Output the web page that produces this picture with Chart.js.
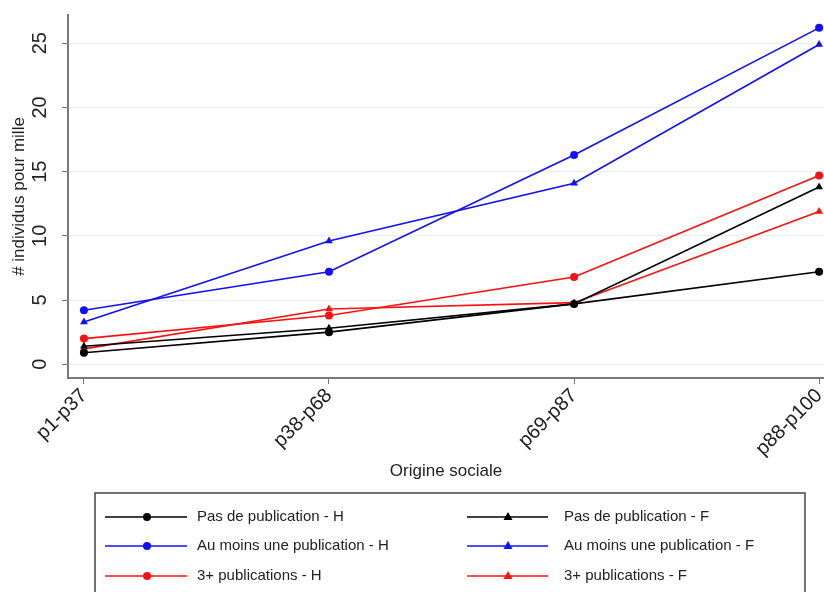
<!DOCTYPE html>
<html>
<head>
<meta charset="utf-8">
<script src="https://cdn.jsdelivr.net/npm/chart.js@4.4.1/dist/chart.umd.min.js"></script>
<style>
  html, body { margin: 0; padding: 0; background: #fff; }
</style>
</head>
<body>
<canvas id="graphique" width="824" height="592"></canvas>
<script>
const categories = ['p1-p37', 'p38-p68', 'p69-p87', 'p88-p100'];
const yTicks = [0, 5, 10, 15, 20, 25];

const pasPubH = [0.9, 2.5, 4.7, 7.2];
const pasPubF = [1.4, 2.8, 4.7, 13.8];
const auMoinsH = [4.2, 7.2, 16.3, 26.2];
const auMoinsF = [3.3, 9.6, 14.1, 24.9];
const troisPlusH = [2.0, 3.8, 6.8, 14.7];
const troisPlusF = [1.2, 4.3, 4.8, 11.9];

const police = "'Liberation Sans', Arial, sans-serif";

const points = arr => arr.map((v, i) => ({ x: i, y: v }));

const serie = (label, valeurs, couleur, forme) => ({
  label,
  data: points(valeurs),
  borderColor: couleur,
  backgroundColor: couleur,
  borderWidth: 1.6,
  pointStyle: forme,
  pointRadius: forme === 'triangle' ? 4.5 : 4,
  pointBorderWidth: 0,
  tension: 0,
  clip: false,
});

const data = {
  datasets: [
    serie('Pas de publication - H', pasPubH, '#000000', 'circle'),
    serie('Pas de publication - F', pasPubF, '#000000', 'triangle'),
    serie('Au moins une publication - H', auMoinsH, '#1010ff', 'circle'),
    serie('Au moins une publication - F', auMoinsF, '#1010ff', 'triangle'),
    serie('3+ publications - H', troisPlusH, '#ff1010', 'circle'),
    serie('3+ publications - F', troisPlusF, '#ff1010', 'triangle'),
  ],
};

// legende facon Stata, en 2 colonnes dans un cadre
const legendeStata = {
  id: 'legendeStata',
  afterDraw(chart) {
    const ctx = chart.ctx;
    ctx.save();
    ctx.strokeStyle = '#444';
    ctx.lineWidth = 1.5;
    ctx.strokeRect(95, 493, 710, 120);
    const cols = [
      { x0: 105, x1: 187, xm: 147, xt: 197 },
      { x0: 467, x1: 548, xm: 508, xt: 564 },
    ];
    const rows = [517, 546, 576];
    ctx.font = '15px ' + police;
    ctx.textBaseline = 'middle';
    ctx.textAlign = 'left';
    chart.data.datasets.forEach((ds, i) => {
      const c = cols[i % 2];
      const y = rows[Math.floor(i / 2)];
      ctx.strokeStyle = ds.borderColor;
      ctx.fillStyle = ds.borderColor;
      ctx.lineWidth = 1.6;
      ctx.beginPath();
      ctx.moveTo(c.x0, y);
      ctx.lineTo(c.x1, y);
      ctx.stroke();
      ctx.beginPath();
      if (ds.pointStyle === 'triangle') {
        ctx.moveTo(c.xm, y - 5);
        ctx.lineTo(c.xm + 4.5, y + 3);
        ctx.lineTo(c.xm - 4.5, y + 3);
        ctx.closePath();
      } else {
        ctx.arc(c.xm, y, 4, 0, Math.PI * 2);
      }
      ctx.fill();
      ctx.fillStyle = '#222';
      ctx.fillText(ds.label, c.xt, y);
    });
    ctx.restore();
  },
};

const options = {
  responsive: false,
  animation: false,
  layout: { autoPadding: false, padding: { top: 15, right: 0, bottom: 107, left: 0 } },
  plugins: {
    legend: { display: false },
    tooltip: { enabled: false },
  },
  scales: {
    x: {
      type: 'linear',
      min: -0.065,
      max: 3.02,
      afterBuildTicks: s => { s.ticks = categories.map((c, i) => ({ value: i })); },
      afterFit: s => { s.height = 107; s.paddingLeft = 0; s.paddingRight = 0; },
      ticks: {
        callback: v => categories[v],
        minRotation: 45,
        maxRotation: 45,
        autoSkip: false,
        color: '#222',
        padding: 0,
        font: { family: police, size: 20 },
      },
      grid: { drawOnChartArea: false, tickLength: 6, tickColor: '#777', tickWidth: 1 },
      border: { color: '#7a7a7a', width: 2 },
      title: {
        display: true,
        text: 'Origine sociale',
        color: '#222',
        font: { family: police, size: 17 },
        padding: { top: 0, bottom: 3 },
      },
    },
    y: {
      min: -1.07,
      max: 27.2,
      afterBuildTicks: s => { s.ticks = yTicks.map(v => ({ value: v })); },
      afterFit: s => { s.width = 68; s.paddingTop = 0; s.paddingBottom = 0; },
      ticks: {
        minRotation: 90,
        maxRotation: 90,
        crossAlign: 'center',
        padding: 10,
        color: '#222',
        font: { family: police, size: 20 },
      },
      grid: { color: '#e8eef1', lineWidth: 1, tickLength: 6, tickColor: '#777' },
      border: { color: '#7a7a7a', width: 2 },
      title: {
        display: true,
        text: '# individus pour mille',
        color: '#222',
        font: { family: police, size: 17 },
        padding: { top: 9, bottom: 0 },
      },
    },
  },
};

const graphique = new Chart(document.getElementById('graphique'), {
  type: 'line',
  data,
  options,
  plugins: [legendeStata],
});
</script>
</body>
</html>
